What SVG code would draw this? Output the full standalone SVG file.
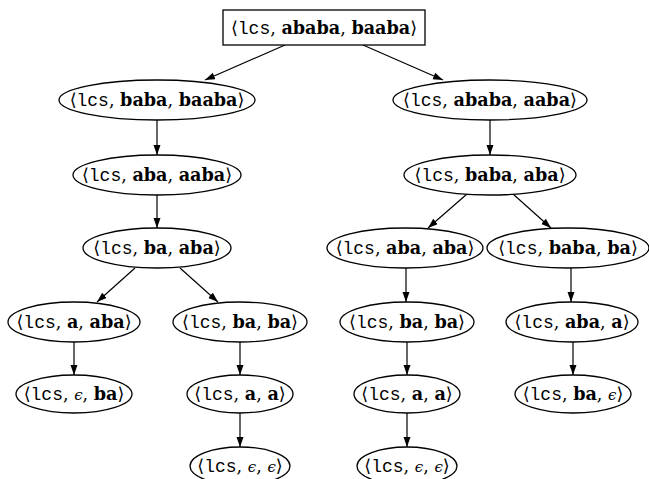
<svg xmlns="http://www.w3.org/2000/svg" width="649" height="479" viewBox="0 0 649 479">
<defs>
<marker id="ah" markerWidth="10" markerHeight="8" refX="10" refY="3.5" orient="auto" markerUnits="userSpaceOnUse">
<path d="M0,0 L10,3.5 L0,7 z" fill="#000"/>
</marker>
<style>
.n ellipse, .n rect { fill: #fff; stroke: #000; stroke-width: 1.3; }
text { font-family: "DejaVu Serif", "Liberation Serif", serif; font-size: 17.6px; text-anchor: middle; fill: #000; }
.br { font-family: "DejaVu Serif", serif; font-weight: normal; }
.tt { font-family: "Liberation Mono", "DejaVu Sans Mono", monospace; font-size: 18px; }
.b { font-weight: bold; }
.e { font-family: "DejaVu Serif", serif; font-style: italic; font-size: 15px; }
#edges line { stroke: #000; stroke-width: 1.2; marker-end: url(#ah); }
</style>
</defs>
<rect width="649" height="479" fill="#fff"/>
<g id="edges">
<line x1="285" y1="45" x2="205" y2="80"/>
<line x1="363" y1="45" x2="443" y2="80"/>
<line x1="157" y1="120" x2="157" y2="155"/>
<line x1="490" y1="120" x2="490" y2="155"/>
<line x1="157" y1="195" x2="157" y2="228"/>
<line x1="467" y1="194" x2="428" y2="228"/>
<line x1="513" y1="194" x2="551" y2="228"/>
<line x1="135" y1="268" x2="97" y2="302"/>
<line x1="180" y1="268" x2="218" y2="302"/>
<line x1="406" y1="268" x2="406" y2="302"/>
<line x1="571" y1="268" x2="571" y2="302"/>
<line x1="74" y1="342" x2="74" y2="375"/>
<line x1="240" y1="342" x2="240" y2="375"/>
<line x1="407" y1="342" x2="407" y2="375"/>
<line x1="573" y1="342" x2="573" y2="375"/>
<line x1="240" y1="413" x2="240" y2="447"/>
<line x1="407" y1="413" x2="407" y2="447"/>
</g>
<g id="root" class="n"><rect x="223" y="10" width="202" height="35"/><text x="324" y="34"><tspan class="br">⟨</tspan><tspan class="tt">lcs</tspan>, <tspan class="b">ababa</tspan>, <tspan class="b">baaba</tspan><tspan class="br">⟩</tspan></text></g>
<g id="n1" class="n"><ellipse cx="157" cy="100" rx="98" ry="20"/><text x="157" y="106"><tspan class="br">⟨</tspan><tspan class="tt">lcs</tspan>, <tspan class="b">baba</tspan>, <tspan class="b">baaba</tspan><tspan class="br">⟩</tspan></text></g>
<g id="n2" class="n"><ellipse cx="490" cy="100" rx="97" ry="20"/><text x="490" y="106"><tspan class="br">⟨</tspan><tspan class="tt">lcs</tspan>, <tspan class="b">ababa</tspan>, <tspan class="b">aaba</tspan><tspan class="br">⟩</tspan></text></g>
<g id="n3" class="n"><ellipse cx="157" cy="175" rx="84" ry="20"/><text x="157" y="181"><tspan class="br">⟨</tspan><tspan class="tt">lcs</tspan>, <tspan class="b">aba</tspan>, <tspan class="b">aaba</tspan><tspan class="br">⟩</tspan></text></g>
<g id="n4" class="n"><ellipse cx="490" cy="175" rx="86" ry="20"/><text x="490" y="181"><tspan class="br">⟨</tspan><tspan class="tt">lcs</tspan>, <tspan class="b">baba</tspan>, <tspan class="b">aba</tspan><tspan class="br">⟩</tspan></text></g>
<g id="n5" class="n"><ellipse cx="157" cy="248" rx="74" ry="20"/><text x="157" y="254"><tspan class="br">⟨</tspan><tspan class="tt">lcs</tspan>, <tspan class="b">ba</tspan>, <tspan class="b">aba</tspan><tspan class="br">⟩</tspan></text></g>
<g id="n6" class="n"><ellipse cx="405" cy="248" rx="78" ry="20"/><text x="405" y="254"><tspan class="br">⟨</tspan><tspan class="tt">lcs</tspan>, <tspan class="b">aba</tspan>, <tspan class="b">aba</tspan><tspan class="br">⟩</tspan></text></g>
<g id="n7" class="n"><ellipse cx="568" cy="248" rx="81" ry="20"/><text x="568" y="254"><tspan class="br">⟨</tspan><tspan class="tt">lcs</tspan>, <tspan class="b">baba</tspan>, <tspan class="b">ba</tspan><tspan class="br">⟩</tspan></text></g>
<g id="n8" class="n"><ellipse cx="74" cy="322" rx="66" ry="20"/><text x="74" y="328"><tspan class="br">⟨</tspan><tspan class="tt">lcs</tspan>, <tspan class="b">a</tspan>, <tspan class="b">aba</tspan><tspan class="br">⟩</tspan></text></g>
<g id="n9" class="n"><ellipse cx="240" cy="322" rx="67" ry="20"/><text x="240" y="328"><tspan class="br">⟨</tspan><tspan class="tt">lcs</tspan>, <tspan class="b">ba</tspan>, <tspan class="b">ba</tspan><tspan class="br">⟩</tspan></text></g>
<g id="n10" class="n"><ellipse cx="407" cy="322" rx="67" ry="20"/><text x="407" y="328"><tspan class="br">⟨</tspan><tspan class="tt">lcs</tspan>, <tspan class="b">ba</tspan>, <tspan class="b">ba</tspan><tspan class="br">⟩</tspan></text></g>
<g id="n11" class="n"><ellipse cx="572" cy="322" rx="66" ry="20"/><text x="572" y="328"><tspan class="br">⟨</tspan><tspan class="tt">lcs</tspan>, <tspan class="b">aba</tspan>, <tspan class="b">a</tspan><tspan class="br">⟩</tspan></text></g>
<g id="n12" class="n"><ellipse cx="74" cy="394" rx="58" ry="19"/><text x="74" y="400"><tspan class="br">⟨</tspan><tspan class="tt">lcs</tspan>, <tspan class="e">ϵ</tspan>, <tspan class="b">ba</tspan><tspan class="br">⟩</tspan></text></g>
<g id="n13" class="n"><ellipse cx="240" cy="394" rx="53" ry="19"/><text x="240" y="400"><tspan class="br">⟨</tspan><tspan class="tt">lcs</tspan>, <tspan class="b">a</tspan>, <tspan class="b">a</tspan><tspan class="br">⟩</tspan></text></g>
<g id="n14" class="n"><ellipse cx="407" cy="394" rx="53" ry="19"/><text x="407" y="400"><tspan class="br">⟨</tspan><tspan class="tt">lcs</tspan>, <tspan class="b">a</tspan>, <tspan class="b">a</tspan><tspan class="br">⟩</tspan></text></g>
<g id="n15" class="n"><ellipse cx="573" cy="394" rx="58" ry="19"/><text x="573" y="400"><tspan class="br">⟨</tspan><tspan class="tt">lcs</tspan>, <tspan class="b">ba</tspan>, <tspan class="e">ϵ</tspan><tspan class="br">⟩</tspan></text></g>
<g id="n16" class="n"><ellipse cx="240" cy="466" rx="50" ry="19"/><text x="240" y="472"><tspan class="br">⟨</tspan><tspan class="tt">lcs</tspan>, <tspan class="e">ϵ</tspan>, <tspan class="e">ϵ</tspan><tspan class="br">⟩</tspan></text></g>
<g id="n17" class="n"><ellipse cx="407" cy="466" rx="50" ry="19"/><text x="407" y="472"><tspan class="br">⟨</tspan><tspan class="tt">lcs</tspan>, <tspan class="e">ϵ</tspan>, <tspan class="e">ϵ</tspan><tspan class="br">⟩</tspan></text></g>
</svg>
